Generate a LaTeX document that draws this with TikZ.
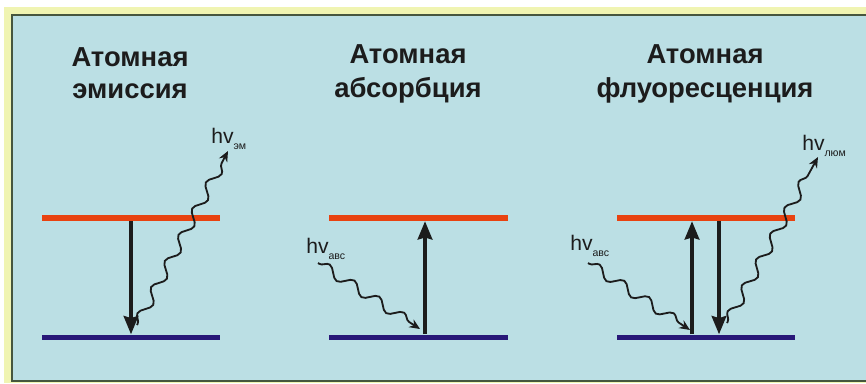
\documentclass[tikz,border=0pt]{standalone}
\usepackage{fontspec}
\setmainfont{Liberation Sans}
\usetikzlibrary{positioning, arrows.meta, calc, decorations.pathmorphing}

\definecolor{panelblue}{RGB}{187,223,228}
\definecolor{frameyellow}{RGB}{240,244,178}
\definecolor{edgegreen}{RGB}{70,86,62}
\definecolor{upred}{RGB}{232,66,16}
\definecolor{lowblue}{RGB}{40,24,120}
\definecolor{ink}{RGB}{28,28,28}

\newcommand{\phsub}[1]{\raisebox{-4.5pt}{\fontsize{7.5}{8}\selectfont #1}}

\begin{document}
\begin{tikzpicture}[
    x=0.025cm, y=-0.025cm,
    level/.style={rectangle, inner sep=0pt, minimum width=4.45cm},
    upper/.style ={level, fill=upred,   minimum height=0.15cm},
    lower/.style ={level, fill=lowblue, minimum height=0.125cm},
    trans/.style={-{Stealth[length=13pt, width=10.5pt, inset=1.5pt]},
                  line width=2.2pt, draw=ink},
    photon/.style={-{Stealth[length=7.5pt, width=6.5pt]}, line width=1.3pt, draw=ink,
                   decorate, decoration={snake, segment length=21pt,
                   amplitude=3.6pt, pre length=1pt, post length=6pt}},
    title/.style={font=\fontsize{19.5}{24}\selectfont\bfseries, text=ink,
                  anchor=base, inner sep=0pt},
    hv/.style={font=\fontsize{15}{17}\selectfont, text=ink,
               anchor=base west, inner sep=0pt},
]

% frame and panel
\useasboundingbox (0,0) rectangle (866,383);
\fill[white] (0,0) rectangle (866,383);
\fill[frameyellow] (4,7) rectangle (866,383);
\fill[panelblue] (12,15) rectangle (866,381);
\draw[edgegreen, line width=1.4pt] (866,15) -- (12,15) -- (12,381) -- (866,381);

% titles
\node[title] (t1a) at (130,66) {Атомная};
\node[title] (t1b) at (130,98) {эмиссия};
\node[title] (t2a) at (408,63) {Атомная};
\node[title] (t2b) at (408,97) {абсорбция};
\node[title] (t3a) at (705,63) {Атомная};
\node[title] (t3b) at (705,97) {флуоресценция};

% energy levels
\foreach \n/\x in {em/131, ab/418.5, fl/706} {
  \node[upper] (\n U) at (\x,218) {};
  \node[lower] (\n L) at (\x,337) {};
}

% transitions
\draw[trans] (emU) -- (emL);
\draw[trans] ($(abL.north)+(6.5,0)$) -- ($(abU.south)+(6.5,0)$);
\draw[trans] ($(flL.north)+(-14,0)$) -- ($(flU.south)+(-14,0)$);
\draw[trans] ($(flU.south)+(13,0)$) -- ($(flL.north)+(13,0)$);

% photon labels
\node[hv] (hvEm)  at (211,143) {hv\phsub{эм}};
\node[hv] (hvAb)  at (306,253) {hv\phsub{авс}};
\node[hv] (hvFlA) at (570,250) {hv\phsub{авс}};
\node[hv] (hvFlL) at (802,150) {hv\phsub{люм}};

% photons
\coordinate (emS) at (137,325);  \coordinate (emE) at (228,151);
\coordinate (abS) at (318,263);  \coordinate (abE) at (420,329);
\coordinate (flS) at (588,263);  \coordinate (flE) at (690,330);
\coordinate (lmS) at (727,323);  \coordinate (lmE) at (818,157);
\draw[photon] (emS) -- (emE);
\draw[photon] (abS) -- (abE);
\draw[photon] (flS) -- (flE);
\draw[photon] (lmS) -- (lmE);
\end{tikzpicture}
\end{document}
